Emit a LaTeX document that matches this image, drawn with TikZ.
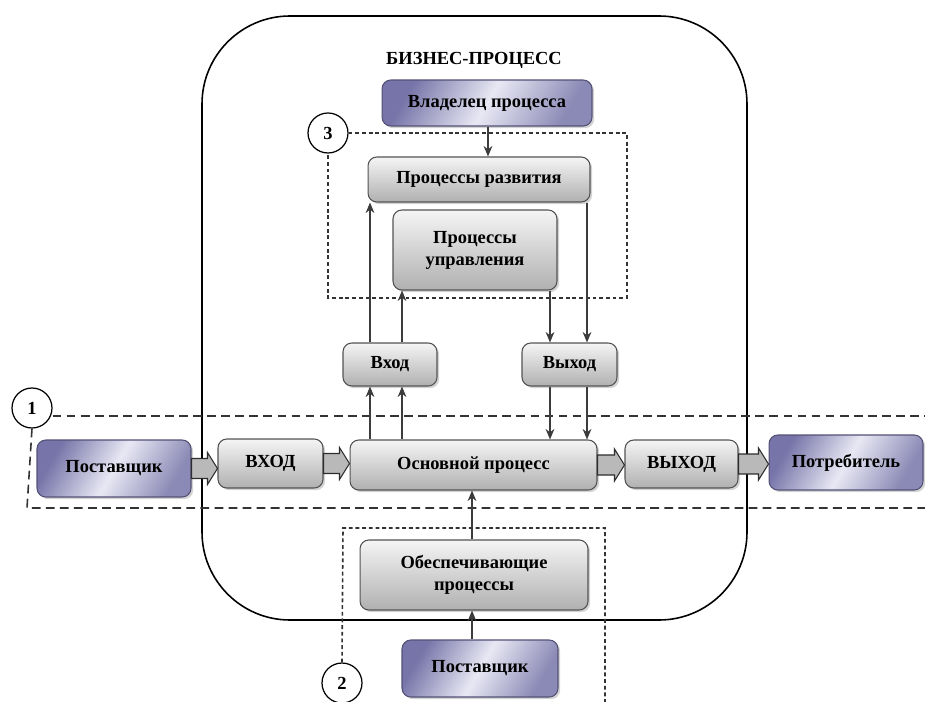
\documentclass[tikz,border=0pt]{standalone}
\usepackage{fontspec}
\setmainfont{Liberation Serif}
\usetikzlibrary{calc,arrows.meta,shadows}
\definecolor{pdark}{RGB}{118,116,168}
\definecolor{plight}{RGB}{232,232,244}
\definecolor{lnc}{RGB}{60,60,60}
\tikzset{
  gbox/.style={rounded corners=5pt, draw=gray!65!black, line width=0.6pt,
    top color=gray!8, bottom color=gray!62, align=center,
    font=\fontsize{10.5}{12.5}\selectfont\bfseries, inner sep=2pt,
    drop shadow={shadow xshift=1.2pt, shadow yshift=-1.2pt, opacity=0.35}},
  pbox/.style={gbox, draw=pdark!70!black, left color=pdark, right color=pdark!85,
    middle color=plight, shading angle=60},
  conn/.style={draw=lnc, line width=0.7pt, -{Stealth[length=6pt,width=5pt]}},
  zone/.style={draw=gray!40!black, line width=0.9pt},
  zonelbl/.style={circle, draw=black, line width=0.7pt, fill=white, minimum size=0.8cm,
    inner sep=0pt, font=\fontsize{10.5}{12}\selectfont\bfseries},
  barrowstyle/.style={fill=gray!55, draw=gray!35!black, line width=0.6pt}
}
\newcommand\blockarrow[2]{%
  \coordinate (bs) at (#1.east);
  \coordinate (bt) at (#2.west |- #1.east);
  \filldraw[barrowstyle] ($(bs)+(0,-10)$) -- ($(bt)+(-10,-10)$) -- ($(bt)+(-10,-16)$)
    -- (bt) -- ($(bt)+(-10,16)$) -- ($(bt)+(-10,10)$) -- ($(bs)+(0,10)$) -- cycle;}
\begin{document}
\begin{tikzpicture}[x=0.02cm,y=-0.02cm]
\useasboundingbox (0,0) rectangle (925,702);
% big business process frame
\draw[line width=0.9pt, rounded corners=1.76cm] (202,16) rectangle (747,620);
\node[font=\fontsize{10.5}{12}\selectfont\bfseries] (title) at (474,60) {БИЗНЕС-ПРОЦЕСС};

% zone labels
\node[zonelbl] (z1) at (32,408) {1};
\node[zonelbl] (z2) at (342,683) {2};
\node[zonelbl] (z3) at (328,133) {3};

% zone 1 (dashed)
\draw[zone, dashed, dash pattern=on 5pt off 3pt] (z1.east |- 0,416) -- (925,416);
\draw[zone, dashed, dash pattern=on 5pt off 3pt] (z1.south) -- (27,508) -- (925,508);
% zone 3 (dotted dashes)
\draw[zone, dash pattern=on 2.2pt off 1.6pt] (z3.east) -- (627,133) -- (627,298) -- (328,298) -- (z3.south);
% zone 2
\draw[zone, dash pattern=on 2.2pt off 1.6pt] (z2.north) -- (343,528) -- (605,528) -- (605,702);

% nodes
\node[pbox, minimum width=4.2cm, minimum height=0.92cm] (own) at (487,103) {Владелец процесса};
\node[gbox, minimum width=4.44cm, minimum height=0.9cm] (dev) at (479,179.5) {Процессы развития};
\node[gbox, minimum width=3.28cm, minimum height=1.6cm] (mgmt) at (475,250) {Процессы\\управления};
\node[gbox, minimum width=1.88cm, minimum height=0.86cm] (in) at (390,364.5) {Вход};
\node[gbox, minimum width=1.9cm, minimum height=0.86cm] (out) at (569.5,364.5) {Выход};
\node[pbox, minimum width=3.08cm, minimum height=1.14cm] (sup1) at (114,468.5) {Поставщик};
\node[gbox, minimum width=2.1cm, minimum height=0.98cm] (vhod) at (270.5,463.5) {ВХОД};
\node[gbox, minimum width=4.94cm, minimum height=1.0cm] (main) at (473.5,465) {Основной процесс};
\node[gbox, minimum width=2.26cm, minimum height=0.96cm] (vyhod) at (681.5,464) {ВЫХОД};
\node[pbox, minimum width=3.08cm, minimum height=1.1cm] (cons) at (846,462.5) {Потребитель};
\node[gbox, minimum width=4.56cm, minimum height=1.4cm] (supp) at (474,575) {Обеспечивающие\\процессы};
\node[pbox, minimum width=3.12cm, minimum height=1.14cm] (sup2) at (480,668.5) {Поставщик};

% block arrows
\blockarrow{sup1}{vhod}
\blockarrow{vhod}{main}
\blockarrow{main}{vyhod}
\blockarrow{vyhod}{cons}

% thin connectors
\draw[conn] (own.south -| 488,0) -- (dev.north -| 488,0);
\draw[conn] (main.north -| 370,0) -- (in.south -| 370,0);
\draw[conn] (main.north -| 402,0) -- (in.south -| 402,0);
\draw[conn] (in.north -| 370,0) -- (dev.south -| 370,0);
\draw[conn] (in.north -| 402,0) -- (mgmt.south -| 402,0);
\draw[conn] (mgmt.south -| 550,0) -- (out.north -| 550,0);
\draw[conn] (dev.south -| 587,0) -- (out.north -| 587,0);
\draw[conn] (out.south -| 550,0) -- (main.north -| 550,0);
\draw[conn] (out.south -| 587,0) -- (main.north -| 587,0);
\draw[conn] (sup2.north -| 472,0) -- (supp.south -| 472,0);
\draw[conn] (supp.north -| 472,0) -- (main.south -| 472,0);
\end{tikzpicture}
\end{document}
